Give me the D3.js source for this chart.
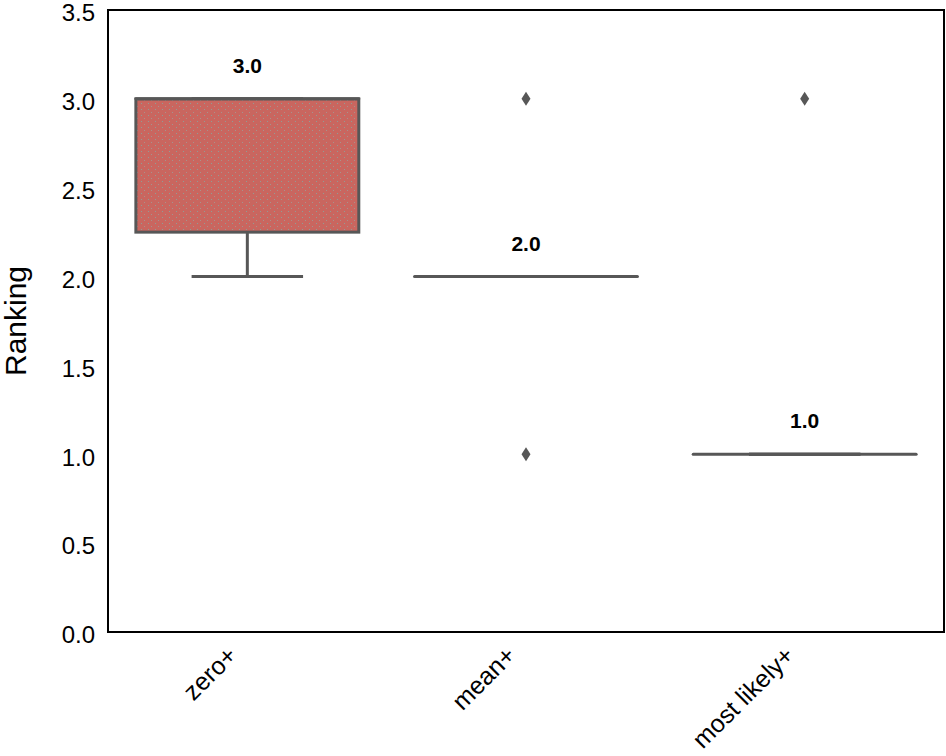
<!DOCTYPE html>
<html>
<head>
<meta charset="utf-8">
<script src="https://cdn.jsdelivr.net/npm/d3@7"></script>
<style>
html,body{margin:0;padding:0;background:#fff;}
svg{display:block;font-family:"Liberation Sans",Arial,sans-serif;}
</style>
</head>
<body>
<svg id="chart" width="946" height="756"></svg>
<script>
const categories = ["zero+", "mean+", "most likely+"];
const q1Values = [2.25, 2.0, 1.0];
const medianValues = [3.0, 2.0, 1.0];
const q3Values = [3.0, 2.0, 1.0];
const whiskerLow = [2.0, 2.0, 1.0];
const whiskerHigh = [3.0, 2.0, 1.0];
const outliers = [[], [3.0, 1.0], [3.0]];
const medianLabels = ["3.0", "2.0", "1.0"];
const yTicks = [0, 0.5, 1.0, 1.5, 2.0, 2.5, 3.0, 3.5];

const svg = d3.select("#chart");
const margin = {left: 108, right: 2, top: 10, bottom: 124};
const W = 946, H = 756;

const x = d3.scaleBand().domain(categories).range([margin.left, W - margin.right]).paddingInner(0).paddingOuter(0);
const y = d3.scaleLinear().domain([0, 3.5]).range([H - margin.bottom, margin.top]);

const defs = svg.append("defs");
const pat = defs.append("pattern").attr("id", "noise").attr("patternUnits", "userSpaceOnUse")
  .attr("width", 7).attr("height", 6);
pat.append("rect").attr("width", 7).attr("height", 6).attr("fill", "#c9665f");
pat.append("rect").attr("x", 1).attr("y", 1).attr("width", 1).attr("height", 1).attr("fill", "#8aa39c").attr("opacity", 0.9);
pat.append("rect").attr("x", 4).attr("y", 4).attr("width", 1).attr("height", 1).attr("fill", "#9aa6a0").attr("opacity", 0.7);

const boxW = x.bandwidth() * 0.8;
const stroke = "#575757";

categories.forEach((c, i) => {
  const cx = x(c) + x.bandwidth() / 2;
  const g = svg.append("g");
  g.append("line").attr("x1", cx).attr("x2", cx).attr("y1", y(whiskerLow[i])).attr("y2", y(q1Values[i]))
    .attr("stroke", stroke).attr("stroke-width", 3);
  g.append("line").attr("x1", cx).attr("x2", cx).attr("y1", y(q3Values[i])).attr("y2", y(whiskerHigh[i]))
    .attr("stroke", stroke).attr("stroke-width", 3);
  [whiskerLow[i], whiskerHigh[i]].forEach(v => {
    g.append("line").attr("x1", cx - boxW / 4).attr("x2", cx + boxW / 4).attr("y1", y(v)).attr("y2", y(v))
      .attr("stroke", stroke).attr("stroke-width", 3);
  });
  if (q3Values[i] > q1Values[i]) {
    g.append("rect").attr("x", cx - boxW / 2).attr("y", y(q3Values[i]))
      .attr("width", boxW).attr("height", y(q1Values[i]) - y(q3Values[i]))
      .attr("fill", "url(#noise)").attr("stroke", stroke).attr("stroke-width", 3);
  }
  g.append("line").attr("x1", cx - boxW / 2).attr("x2", cx + boxW / 2)
    .attr("y1", y(medianValues[i])).attr("y2", y(medianValues[i]))
    .attr("stroke", stroke).attr("stroke-width", 3).attr("stroke-linecap", "round");
  outliers[i].forEach(v => {
    const py = y(v);
    g.append("path").attr("d", `M${cx},${py - 7} L${cx + 4.5},${py} L${cx},${py + 7} L${cx - 4.5},${py} Z`)
      .attr("fill", "#575757");
  });
  svg.append("text").attr("x", cx).attr("y", y(medianValues[i]) - 26)
    .attr("text-anchor", "middle").attr("font-size", 21).attr("font-weight", "bold")
    .attr("fill", "#000").text(medianLabels[i]);
});

svg.append("rect").attr("x", margin.left).attr("y", margin.top)
  .attr("width", W - margin.right - margin.left).attr("height", H - margin.bottom - margin.top)
  .attr("fill", "none").attr("stroke", "#000").attr("stroke-width", 2);

const yAxis = svg.append("g").attr("transform", `translate(${margin.left},0)`)
  .call(d3.axisLeft(y).tickValues(yTicks).tickFormat(d3.format(".1f")).tickSize(0).tickPadding(13));
yAxis.select(".domain").remove();
yAxis.selectAll("text").attr("font-size", 24).attr("fill", "#000").attr("dy", "0.45em")
  .attr("font-family", "Liberation Sans, Arial, sans-serif");

const xAxis = svg.append("g").attr("transform", `translate(0,${H - margin.bottom})`)
  .call(d3.axisBottom(x).tickSize(0).tickPadding(0));
xAxis.select(".domain").remove();
xAxis.selectAll("text")
  .attr("font-size", 25).attr("fill", "#000").attr("font-family", "Liberation Sans, Arial, sans-serif")
  .attr("text-anchor", "end").attr("dy", null)
  .attr("transform", "translate(-9,25) rotate(-45)");

svg.append("text").attr("transform", `translate(26,${(margin.top + H - margin.bottom) / 2}) rotate(-90)`)
  .attr("text-anchor", "middle").attr("font-size", 30).attr("fill", "#000").text("Ranking");
</script>
</body>
</html>
